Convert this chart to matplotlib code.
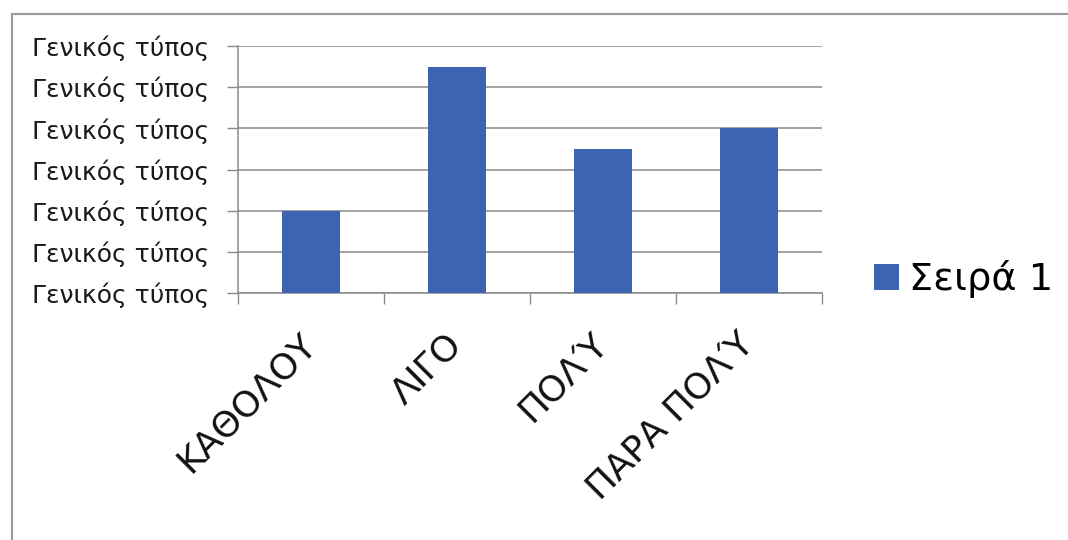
import numpy as np
import matplotlib
matplotlib.use("Agg")
import matplotlib.pyplot as plt
from matplotlib.lines import Line2D

CATEGORIES = ["ΚΑΘΟΛΟΥ", "ΛΙΓΟ", "ΠΟΛΎ", "ΠΑΡΑ ΠΟΛΎ"]
VALUES = [2.0, 5.5, 3.5, 4.0]
SERIES = "Σειρά 1"
Y_TICKS = [0, 1, 2, 3, 4, 5, 6]
Y_LABEL = "Γενικός τύπος"

BAR_COLOR = "#3c64b1"
GRID_COLOR = "#8a8a8a"

plt.rcParams["font.family"] = ["DejaVu Sans"]

fig = plt.figure(figsize=(10.68, 5.40), dpi=100)
ax = fig.add_axes([0.2228, 0.4574, 0.5469, 0.4574])

x = np.arange(len(CATEGORIES))
bars = ax.bar(x, VALUES, width=0.4, color=BAR_COLOR, zorder=3, label=SERIES)

ax.set_xlim(-0.5, len(CATEGORIES) - 0.5)
ax.set_ylim(Y_TICKS[0], Y_TICKS[-1])
ax.set_yticks(Y_TICKS)
ax.set_yticklabels([Y_LABEL] * len(Y_TICKS), fontsize=18, color="#1a1a1a")
ax.tick_params(axis="y", length=8, width=1, color=GRID_COLOR, pad=13)
ax.yaxis.grid(True, color=GRID_COLOR, linewidth=1.1, zorder=0)

# category boundaries as major ticks, names on minor ticks
ax.set_xticks(np.arange(len(CATEGORIES) + 1) - 0.5)
ax.set_xticklabels([])
ax.tick_params(axis="x", which="major", length=8, width=1, color=GRID_COLOR)
ax.set_xticks(x, minor=True)
ax.set_xticklabels(CATEGORIES, minor=True, rotation=45, ha="right",
                   va="center", rotation_mode="anchor", fontsize=26,
                   color="#111111")
ax.tick_params(axis="x", which="minor", length=0, pad=33)

for side in ["top", "right"]:
    ax.spines[side].set_visible(False)
ax.spines["left"].set_color(GRID_COLOR)
ax.spines["bottom"].set_color(GRID_COLOR)
ax.spines["left"].set_linewidth(1.1)
ax.spines["bottom"].set_linewidth(1.1)

fig.legend(handles=[bars], labels=[SERIES], loc="center left",
           bbox_to_anchor=(0.786, 0.483), frameon=False, fontsize=27.5,
           handlelength=0.66, handleheight=0.66, handletextpad=0.25)

# scanned frame edges
fig.add_artist(Line2D([12 / 1068, 1.0], [1 - 14 / 540, 1 - 14 / 540],
                      color="#9a9a9a", linewidth=1.5))
fig.add_artist(Line2D([12 / 1068, 12 / 1068], [0.0, 1 - 14 / 540],
                      color="#9a9a9a", linewidth=1.5))

fig.savefig("out.png", dpi=100)
